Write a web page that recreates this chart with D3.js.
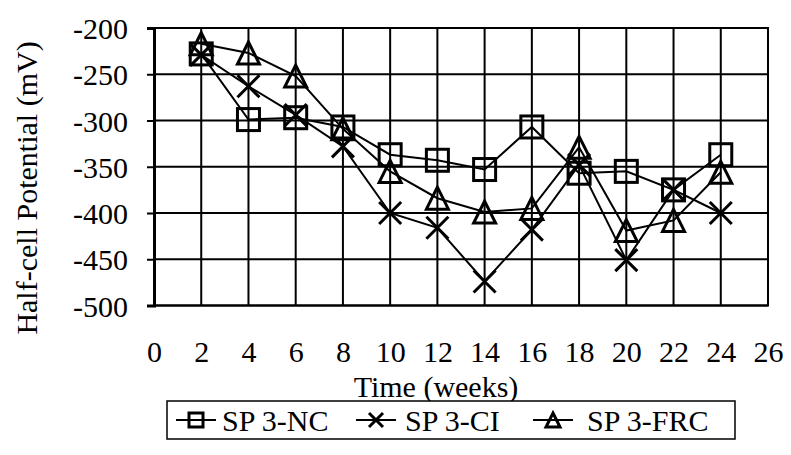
<!DOCTYPE html>
<html>
<head>
<meta charset="utf-8">
<script src="https://cdn.jsdelivr.net/npm/d3@7"></script>
<style>
  html, body { margin: 0; padding: 0; background: #fff; }
  svg { display: block; }
  text { font-family: "Liberation Serif", "Times New Roman", serif; fill: #000; }
</style>
</head>
<body>
<svg id="chart" width="791" height="455"></svg>
<script>
const weeks = [2, 4, 6, 8, 10, 12, 14, 16, 18, 20, 22, 24];
const seriesNames = ["SP 3-NC", "SP 3-CI", "SP 3-FRC"];
const nc  = [-228, -299, -297, -307, -337, -343, -353, -307, -357, -355, -375, -337];
const ci  = [-229, -263, -294, -328, -400, -416, -474, -418, -348, -451, -375, -400];
const frc = [-217, -227, -252, -309, -355, -384, -399, -395, -329, -419, -408, -356];
const xTicks = [0, 2, 4, 6, 8, 10, 12, 14, 16, 18, 20, 22, 24, 26];
const yTicks = [-500, -450, -400, -350, -300, -250, -200];
const xTitle = "Time (weeks)";
const yTitle = "Half-cell Potential (mV)";

const FS = "30px";
const svg = d3.select("#chart");
const x = d3.scaleLinear().domain([0, 26]).range([154, 768]);
const y = d3.scaleLinear().domain([-500, -200]).range([305.5, 28]);

// grid
const g = svg.append("g");
g.selectAll("line.vg").data(xTicks).join("line")
  .attr("x1", d => x(d)).attr("x2", d => x(d))
  .attr("y1", y(-200)).attr("y2", y(-500))
  .attr("stroke", "#000").attr("stroke-width", 2);
g.selectAll("line.hg").data(yTicks).join("line")
  .attr("x1", x(0)).attr("x2", x(26))
  .attr("y1", d => y(d)).attr("y2", d => y(d))
  .attr("stroke", "#000").attr("stroke-width", 2);

// y axis
const yAxis = d3.axisLeft(y).tickValues(yTicks).tickSize(7).tickPadding(19).tickFormat(d => String(d));
const ya = svg.append("g").attr("transform", `translate(${x(0)},0)`).call(yAxis)
  .attr("font-family", null).attr("font-size", null);
ya.select(".domain").attr("stroke", "#000").attr("stroke-width", 3);
ya.selectAll(".tick line").attr("stroke", "#000").attr("stroke-width", 2);
ya.selectAll(".tick text").style("font-size", FS).attr("dy", "0.35em");

// x tick labels (placed below plot)
const xAxis = d3.axisBottom(x).tickValues(xTicks).tickSize(0).tickPadding(0).tickFormat(d => String(d));
const xa = svg.append("g").attr("transform", `translate(0,${y(-500)})`).call(xAxis)
  .attr("font-family", null).attr("font-size", null);
xa.select(".domain").remove();
xa.selectAll(".tick text").style("font-size", FS).attr("y", 45.5).attr("dy", "0.35em");

// titles
svg.append("text").attr("x", 436).attr("y", 386).attr("dy", "0.35em")
  .attr("text-anchor", "middle").style("font-size", FS).text(xTitle);
svg.append("text").attr("transform", "translate(26,188) rotate(-90)").attr("dy", "0.35em")
  .attr("text-anchor", "middle").style("font-size", FS).text(yTitle);

// markers
function drawMarker(sel, type, s, sw) {
  if (type === 0) {
    sel.append("rect").attr("x", -s).attr("y", -s).attr("width", 2 * s).attr("height", 2 * s)
      .attr("fill", "none").attr("stroke", "#000").attr("stroke-width", sw);
  } else if (type === 1) {
    sel.append("path").attr("d", `M${-s},${-s}L${s},${s}M${-s},${s}L${s},${-s}`)
      .attr("fill", "none").attr("stroke", "#000").attr("stroke-width", sw);
  } else {
    sel.append("path").attr("d", `M0,${-s}L${s},${s}L${-s},${s}Z`)
      .attr("fill", "none").attr("stroke", "#000").attr("stroke-width", sw).attr("stroke-linejoin", "miter");
  }
}

const allSeries = [nc, ci, frc];
const line = d3.line().x(d => x(d[0])).y(d => y(d[1]));
allSeries.forEach((vals, i) => {
  const pts = weeks.map((w, j) => [w, vals[j]]);
  svg.append("path").datum(pts).attr("d", line)
    .attr("fill", "none").attr("stroke", "#000").attr("stroke-width", 2);
  pts.forEach(p => {
    const m = svg.append("g").attr("transform", `translate(${x(p[0])},${y(p[1])})`);
    drawMarker(m, i, 11, 3);
  });
});

// plot border
svg.append("rect").attr("x", x(0)).attr("y", y(-200)).attr("width", x(26) - x(0)).attr("height", y(-500) - y(-200))
  .attr("fill", "none").attr("stroke", "#000").attr("stroke-width", 2);

// legend
const lg = svg.append("g");
lg.append("rect").attr("x", 167).attr("y", 401).attr("width", 568).attr("height", 38)
  .attr("fill", "#fff").attr("stroke", "#000").attr("stroke-width", 1.5);
const legLine = [176, 356, 533];
const legText = [222, 405, 587];
seriesNames.forEach((nm, i) => {
  const gx = legLine[i], gy = 420;
  lg.append("line").attr("x1", gx).attr("x2", gx + 40).attr("y1", gy).attr("y2", gy)
    .attr("stroke", "#000").attr("stroke-width", 2);
  const m = lg.append("g").attr("transform", `translate(${gx + 20},${gy})`);
  drawMarker(m, i, 7, 3);
  lg.append("text").attr("x", legText[i]).attr("y", gy).attr("dy", "0.35em")
    .style("font-size", FS).text(nm);
});
</script>
</body>
</html>
